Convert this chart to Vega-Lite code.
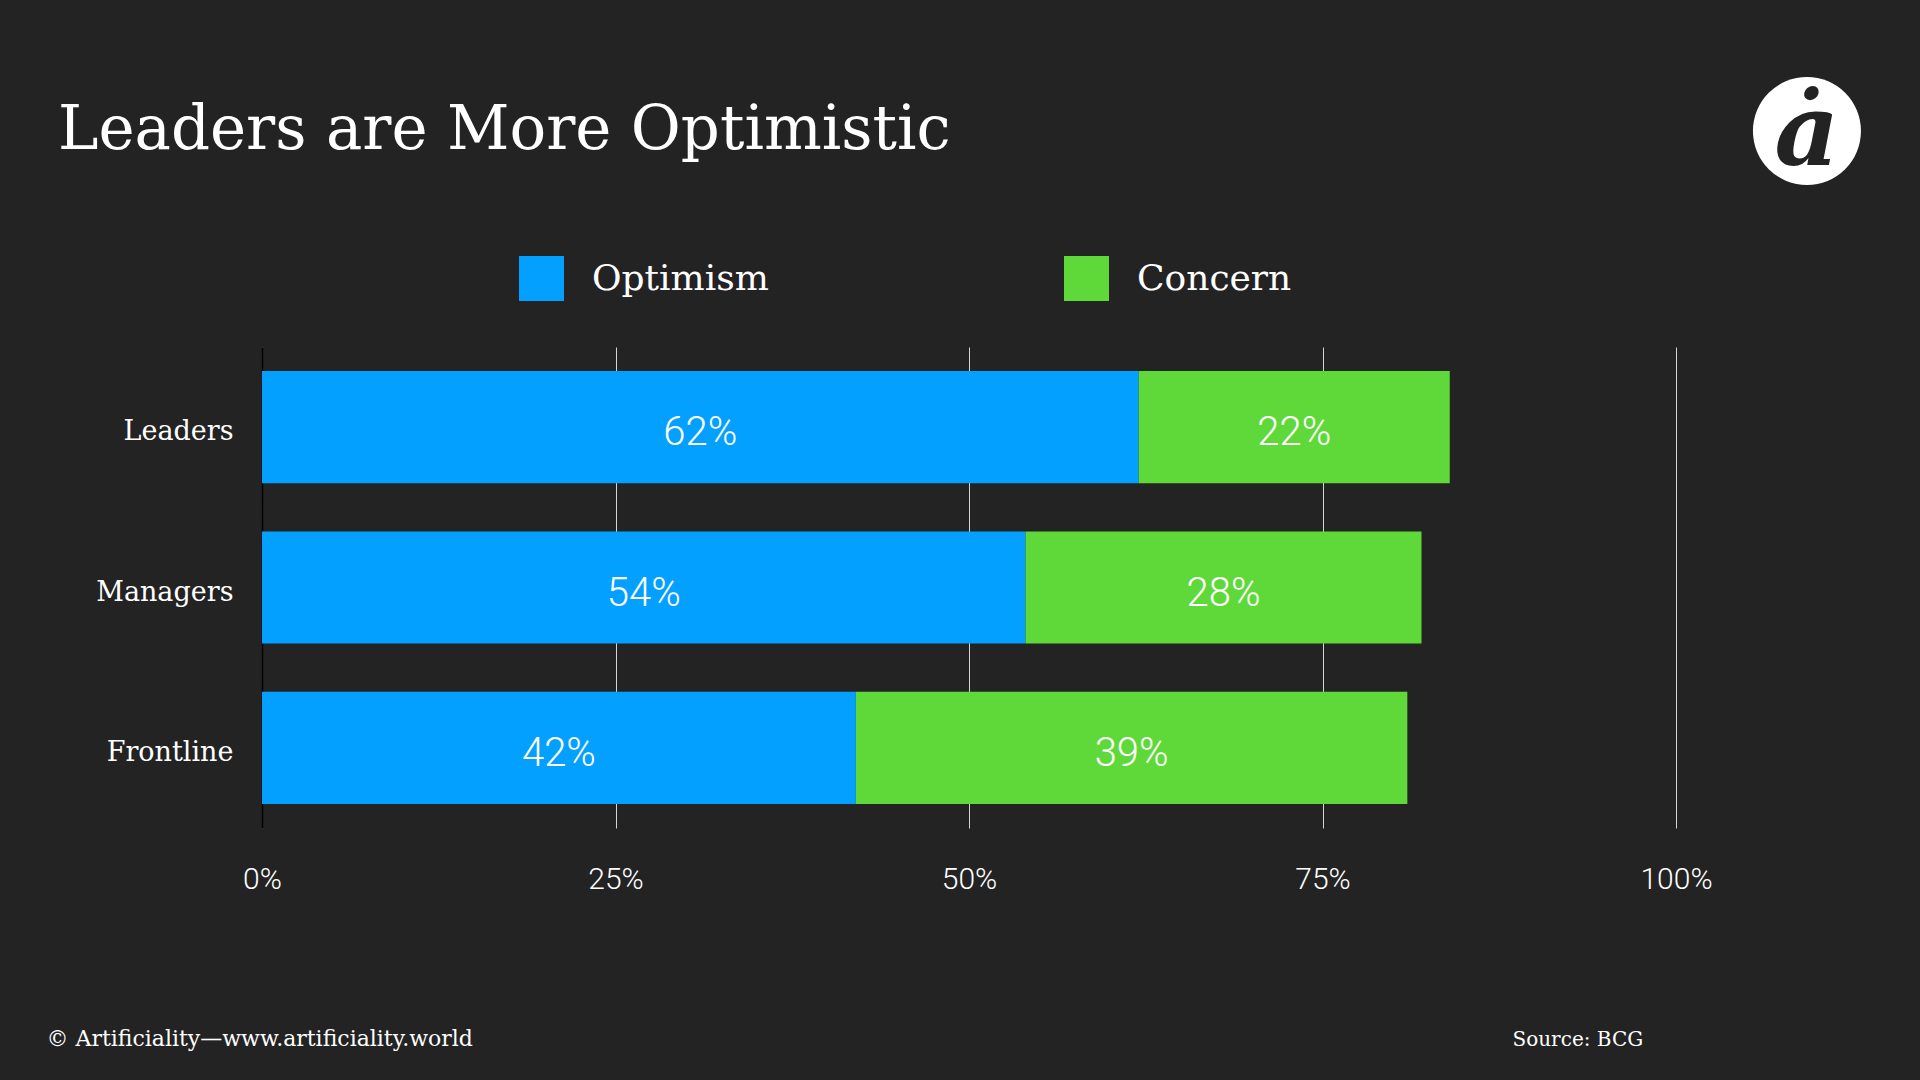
{
  "$schema": "https://vega.github.io/schema/vega-lite/v6.json",
  "width": 1414,
  "height": 481,
  "autosize": {"type": "none"},
  "padding": {"left": 262, "top": 347, "right": 244, "bottom": 252},
  "background": "#232323",
  "config": {
    "view": {"stroke": null},
    "font": "DejaVu Serif"
  },
  "title": {
    "text": "Leaders are More Optimistic",
    "anchor": "start",
    "frame": "group",
    "orient": "top",
    "font": "DejaVu Serif",
    "fontSize": 61,
    "fontWeight": "normal",
    "color": "#ffffff",
    "baseline": "alphabetic",
    "dx": -204,
    "offset": -133
  },
  "data": {
    "values": [
      {"group": "Leaders", "type": "Optimism", "value": 0.62, "order": 1},
      {"group": "Leaders", "type": "Concern", "value": 0.22, "order": 2},
      {"group": "Managers", "type": "Optimism", "value": 0.54, "order": 1},
      {"group": "Managers", "type": "Concern", "value": 0.28, "order": 2},
      {"group": "Frontline", "type": "Optimism", "value": 0.42, "order": 1},
      {"group": "Frontline", "type": "Concern", "value": 0.39, "order": 2}
    ]
  },
  "layer": [
    {
      "mark": {"type": "bar"},
      "encoding": {
        "y": {
          "field": "group",
          "type": "nominal",
          "sort": ["Leaders", "Managers", "Frontline"],
          "scale": {"paddingInner": 0.3, "paddingOuter": 0.15},
          "axis": {
            "title": "Source: BCG",
            "titleAngle": 0,
            "titleX": 1250,
            "titleY": 698,
            "titleAlign": "left",
            "titleBaseline": "alphabetic",
            "titleFont": "DejaVu Serif",
            "titleFontSize": 20,
            "titleFontWeight": "normal",
            "titleColor": "#ffffff",
            "ticks": false,
            "domain": true,
            "domainColor": "#000000",
            "domainWidth": 1.5,
            "labelFont": "DejaVu Serif",
            "labelFontSize": 27,
            "labelColor": "#ffffff",
            "labelPadding": 29,
            "labelOffset": 5
          }
        },
        "x": {
          "field": "value",
          "type": "quantitative",
          "stack": "zero",
          "scale": {"domain": [0, 1]},
          "axis": {
            "values": [0, 0.25, 0.5, 0.75, 1],
            "format": ".0%",
            "grid": true,
            "gridColor": "#d4d4d4",
            "gridWidth": 1,
            "domain": false,
            "ticks": false,
            "labelFlush": false,
            "labelFont": "Roboto",
            "labelFontWeight": 300,
            "labelFontSize": 30,
            "labelColor": "#ffffff",
            "labelPadding": 36,
            "title": "© Artificiality—www.artificiality.world",
            "titleX": -216,
            "titleY": 217,
            "titleAlign": "left",
            "titleBaseline": "alphabetic",
            "titleFont": "DejaVu Serif",
            "titleFontSize": 22,
            "titleFontWeight": "normal",
            "titleColor": "#ffffff"
          }
        },
        "color": {
          "field": "type",
          "type": "nominal",
          "scale": {"domain": ["Optimism", "Concern"], "range": ["#04A0FF", "#5FD93A"]},
          "legend": {
            "title": null,
            "orient": "none",
            "legendX": 257,
            "legendY": -91,
            "direction": "horizontal",
            "symbolType": "square",
            "symbolSize": 2025,
            "symbolStrokeWidth": 0,
            "symbolOpacity": 1,
            "labelFont": "DejaVu Serif",
            "labelFontSize": 36,
            "labelColor": "#ffffff",
            "labelOffset": 28,
            "labelLimit": 400,
            "columnPadding": 295
          }
        },
        "order": {"field": "order", "type": "quantitative"}
      }
    },
    {
      "transform": [
        {"stack": "value", "groupby": ["group"], "sort": [{"field": "order", "order": "ascending"}], "as": ["v0", "v1"]},
        {"fold": ["v0", "v1"], "as": ["edge", "pos"]},
        {"aggregate": [{"op": "mean", "field": "pos", "as": "mid"}], "groupby": ["group", "type", "value"]}
      ],
      "mark": {"type": "text", "font": "Roboto", "fontWeight": 300, "fontSize": 40, "color": "#ffffff", "align": "center", "baseline": "middle", "dy": 6},
      "encoding": {
        "y": {"field": "group", "type": "nominal", "sort": ["Leaders", "Managers", "Frontline"]},
        "x": {"field": "mid", "type": "quantitative"},
        "text": {"field": "value", "type": "quantitative", "format": ".0%"}
      }
    },
    {
      "data": {"values": [{"logo": "ȧ"}]},
      "mark": {"type": "point", "shape": "circle", "filled": true, "color": "#ffffff", "opacity": 1, "size": 11664},
      "encoding": {
        "x": {"datum": 1.0926, "type": "quantitative"},
        "y": {"value": -216}
      }
    },
    {
      "data": {"values": [{"logo": "ȧ"}]},
      "mark": {"type": "text", "font": "DejaVu Serif", "fontStyle": "italic", "fontWeight": "bold", "fontSize": 100, "color": "#232323", "align": "center", "baseline": "alphabetic"},
      "encoding": {
        "x": {"datum": 1.0926, "type": "quantitative"},
        "y": {"value": -182},
        "text": {"field": "logo", "type": "nominal"}
      }
    }
  ]
}
